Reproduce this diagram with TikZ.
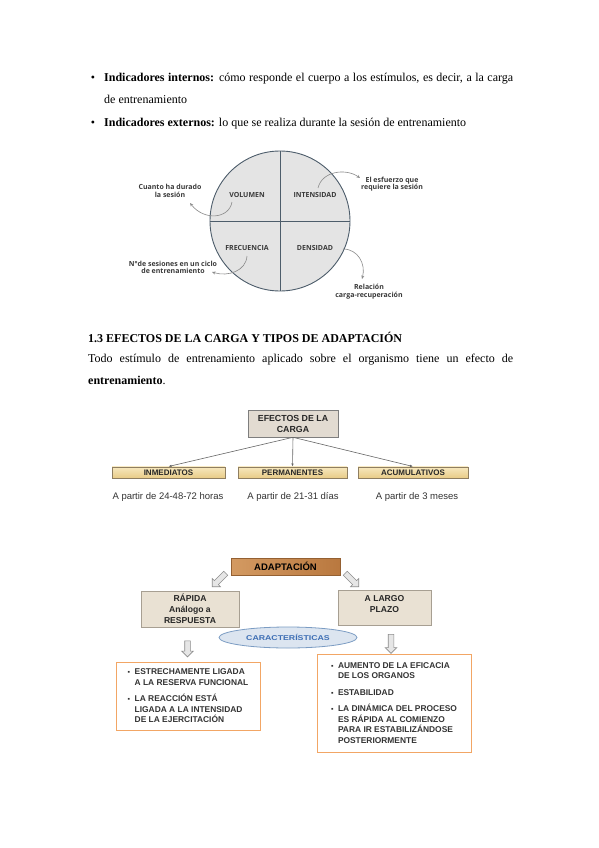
\documentclass[tikz,border=0pt]{standalone}
\usepackage{fontspec}
\setmainfont{Liberation Serif}
\newfontfamily\arialf{Liberation Sans}
\newfontfamily\opensf{Open Sans}
\usetikzlibrary{arrows.meta,shapes.geometric,shapes.arrows}
\definecolor{circfill}{HTML}{E4E4E4}
\definecolor{circline}{HTML}{4D5D6B}
\definecolor{anntext}{HTML}{3A3A3A}
\definecolor{annline}{HTML}{8A8A8A}
\definecolor{efbg}{HTML}{E2DBD1}
\definecolor{efline}{HTML}{7E7E7E}
\definecolor{tantop}{HTML}{F7E8BF}
\definecolor{tanbot}{HTML}{E8CB86}
\definecolor{tanline}{HTML}{8F7E60}
\definecolor{woodA}{HTML}{D39A62}
\definecolor{woodB}{HTML}{B9783F}
\definecolor{beige}{HTML}{E9E1D3}
\definecolor{beigeline}{HTML}{A79F92}
\definecolor{ellfill}{HTML}{DCE5F0}
\definecolor{ellline}{HTML}{7B9CC3}
\definecolor{elltext}{HTML}{3D6EB4}
\definecolor{orangeline}{HTML}{F2A665}
\definecolor{harrowfill}{HTML}{E6E6E6}
\definecolor{harrowline}{HTML}{8C8C8C}
\definecolor{listtext}{HTML}{333333}
\tikzset{
  body/.style={font=\fontsize{12}{14}\selectfont, inner sep=0pt},
  quad/.style={font=\opensf\bfseries\fontsize{7}{8}\selectfont, text=anntext},
  ann/.style={font=\opensf\bfseries\fontsize{7}{7.6}\selectfont, text=anntext, align=center, inner sep=0pt},
  annarrow/.style={draw=annline, line width=0.6pt, -{Stealth[length=3.5pt,width=3pt]}},
  efbox/.style={draw=efline, fill=efbg, line width=0.6pt, minimum width=90pt, minimum height=27pt,
     align=center, font=\arialf\bfseries\fontsize{8.8}{11}\selectfont, text=black!85, inner sep=0pt},
  tanbox/.style={draw=tanline, top color=tantop, bottom color=tanbot, line width=0.5pt, minimum height=11.5pt,
     font=\arialf\bfseries\fontsize{8}{9}\selectfont, text=black!85, inner sep=0pt},
  efarrow/.style={draw=black!60, line width=0.6pt, -{Latex[length=3pt,width=2.5pt]}},
  sub/.style={font=\arialf\fontsize{9.5}{11}\selectfont, text=black!80, inner sep=0pt},
  woodbox/.style={draw=woodB!80!black, left color=woodA, right color=woodB, line width=0.5pt,
     minimum width=109pt, minimum height=17pt, font=\arialf\bfseries\fontsize{9.5}{11}\selectfont, inner sep=0pt},
  beigebox/.style={draw=beigeline, fill=beige, line width=0.5pt, align=center,
     font=\arialf\bfseries\fontsize{8.6}{11}\selectfont, text=black!85, inner sep=0pt},
  harrow/.style={single arrow, draw=harrowline, fill=harrowfill, line width=0.6pt, inner sep=2.5pt,
     single arrow head extend=3pt, single arrow head indent=0pt},
  listbox/.style={draw=orangeline, fill=white, line width=1pt, align=left,
     font=\arialf\bfseries\fontsize{8.4}{10.5}\selectfont, text=listtext, inner sep=0pt},
}
\newcommand{\lbul}{\makebox[7pt][l]{\raisebox{0.3pt}{\fontsize{7}{7}\selectfont▪}}}
\newcommand{\lind}{\hspace*{7pt}}
\begin{document}
\begin{tikzpicture}[x=1pt,y=-1pt]
\useasboundingbox (0,0) rectangle (599,848);
\fill[white] (0,0) rectangle (599,848);

% ---------- top bullets ----------
\node[body, anchor=base] (b1) at (93,82) {•};
\node[body, anchor=base west] (t1) at (104,82) {\makebox[409pt][s]{\textbf{Indicadores internos:} cómo responde el cuerpo a los estímulos, es decir, a la carga}};
\node[body, anchor=base west] (t2) at (104,104) {de entrenamiento};
\node[body, anchor=base] (b2) at (93,126) {•};
\node[body, anchor=base west] (t3) at (104,126) {\textbf{Indicadores externos:} lo que se realiza durante la sesión de entrenamiento};

% ---------- circle ----------
\node[circle, draw=circline, fill=circfill, line width=0.9pt, minimum size=140pt, inner sep=0pt] (circ) at (280,221) {};
\draw[circline, line width=0.9pt] (circ.north) -- (circ.south);
\draw[circline, line width=0.9pt] (circ.west) -- (circ.east);
\node[quad] (vol) at (247,195) {VOLUMEN};
\node[quad] (int) at (315,195) {INTENSIDAD};
\node[quad] (fre) at (247,248) {FRECUENCIA};
\node[quad] (den) at (315,248) {DENSIDAD};

\node[ann] (a1) at (170,191) {Cuanto ha durado\\la sesión};
\node[ann] (a2) at (173,267.5) {N°de sesiones en un ciclo\\de entrenamiento};
\node[ann] (a3) at (392,184) {El esfuerzo que\\requiere la sesión};
\node[ann] (a4) at (369,291.5) {Relación\\carga-recuperación};

\coordinate (v1) at (232,202);
\coordinate (v2) at (190,203);
\draw[annarrow] (v1) .. controls (229,219) and (204,221) .. (v2);
\coordinate (f1) at (247,256);
\coordinate (f2) at (212,272);
\draw[annarrow] (f1) .. controls (246,271) and (228,277) .. (f2);
\coordinate (i1) at (318,188);
\coordinate (i2) at (360,178);
\draw[annarrow] (i1) .. controls (322,171) and (346,168) .. (i2);
\coordinate (d1) at (343,249);
\coordinate (d2) at (362,279);
\draw[annarrow] (d1) .. controls (358,249) and (366,264) .. (d2);

% ---------- heading & paragraph ----------
\node[body, anchor=base west] (h1) at (88,342) {\textbf{1.3 EFECTOS DE LA CARGA Y TIPOS DE ADAPTACIÓN}};
\node[body, anchor=base west] (p1) at (88,362) {\makebox[425pt][s]{Todo estímulo de entrenamiento aplicado sobre el organismo tiene un efecto de}};
\node[body, anchor=base west] (p2) at (88,384) {\textbf{entrenamiento}.};

% ---------- effects diagram ----------
\node[efbox] (ef) at (293,423.5) {EFECTOS DE LA\\CARGA};
\node[tanbox, minimum width=113pt] (inm) at (168.5,472.5) {INMEDIATOS};
\node[tanbox, minimum width=109pt] (per) at (292.5,472.5) {PERMANENTES};
\node[tanbox, minimum width=110pt] (acu) at (413,472.5) {ACUMULATIVOS};
\draw[efarrow] (ef.south) -- (inm.north);
\draw[efarrow] (ef.south) -- (per.north);
\draw[efarrow] (ef.south) -- (acu.north);
\node[sub] (s1) at (168,497) {A partir de 24-48-72 horas};
\node[sub] (s2) at (293,497) {A partir de 21-31 días};
\node[sub] (s3) at (417,497) {A partir de 3 meses};

% ---------- adaptation diagram ----------
\node[woodbox] (adp) at (285.5,566.5) {ADAPTACIÓN};
\node[harrow, rotate=225, minimum height=19pt] (ha1) at (220,579) {};
\node[harrow, rotate=-45, minimum height=19pt] (ha2) at (351,579) {};
\node[beigebox, minimum width=98pt, minimum height=36pt] (rap) at (190,609) {RÁPIDA\\Análogo a\\RESPUESTA};
\node[beigebox, minimum width=93pt, minimum height=35pt] (lar) at (384.5,607.5) {A LARGO\\PLAZO\\[-4pt]};
\node[ellipse, draw=ellline, fill=ellfill, line width=0.8pt, minimum width=138pt, minimum height=21pt, inner sep=0pt,
  font=\arialf\bfseries\fontsize{7}{8}\selectfont, text=elltext] (car) at (288,637.5) {\scalebox{1.25}[1]{CARACTERÍSTICAS}};
\node[harrow, rotate=-90, minimum height=16pt] (ha3) at (187.5,647.5) {};
\node[harrow, rotate=-90, minimum height=19pt] (ha4) at (391,642.5) {};

\node[listbox, minimum width=144pt, minimum height=68pt] (lb) at (188,696) {%
\lbul ESTRECHAMENTE LIGADA\\\lind A LA RESERVA FUNCIONAL\\[6pt]%
\lbul LA REACCIÓN ESTÁ\\\lind LIGADA A LA INTENSIDAD\\\lind DE LA EJERCITACIÓN};
\node[listbox, minimum width=154pt, minimum height=98pt] (rb) at (394,703) {%
\lbul AUMENTO DE LA EFICACIA\\\lind DE LOS ORGANOS\\[6pt]%
\lbul ESTABILIDAD\\[6pt]%
\lbul LA DINÁMICA DEL PROCESO\\\lind ES RÁPIDA AL COMIENZO\\\lind PARA IR ESTABILIZÁNDOSE\\\lind POSTERIORMENTE};
\end{tikzpicture}
\end{document}
